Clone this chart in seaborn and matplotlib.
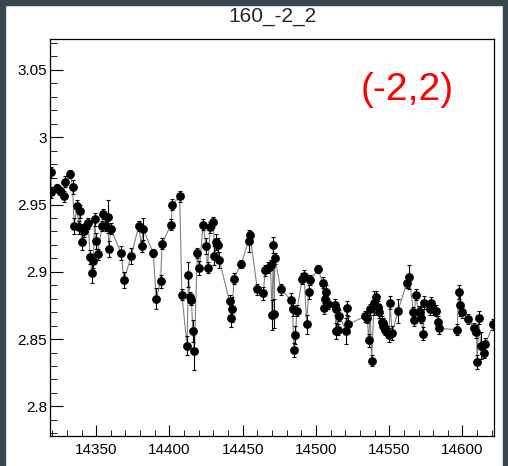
import matplotlib
matplotlib.use("Agg")
import matplotlib.pyplot as plt
import seaborn as sns
import pandas as pd
from matplotlib.ticker import MultipleLocator, FixedLocator, FixedFormatter
from matplotlib.patches import Rectangle

# dados
x_vals = [14319, 14319.5, 14323, 14325, 14328, 14329, 14332, 14334, 14335, 14337,
          14338, 14339, 14340, 14342, 14343, 14344.5, 14346, 14347, 14348, 14349,
          14350, 14351, 14354, 14355, 14357, 14358, 14358.6, 14360, 14367, 14369,
          14374, 14379, 14381, 14382, 14389, 14391, 14394, 14395, 14401, 14402,
          14407, 14408.5, 14412, 14413, 14414, 14415, 14416, 14417, 14419, 14420.5,
          14423, 14425, 14426, 14428, 14430, 14430.7, 14432, 14433, 14434, 14441,
          14442, 14443, 14444, 14449, 14454, 14455, 14460, 14464, 14465.4, 14467,
          14469, 14470, 14471, 14471.5, 14472, 14476, 14483, 14484, 14485, 14486,
          14487, 14490.6, 14492, 14493.6, 14495, 14496, 14501.5, 14504.5, 14505.5, 14506,
          14507, 14508, 14513, 14513.5, 14514, 14515, 14516, 14520.5, 14521, 14522,
          14533.6, 14535, 14536, 14537, 14538, 14539.7, 14541, 14542.5, 14543, 14545,
          14545.5, 14546, 14546.8, 14547, 14550, 14550.5, 14552, 14556, 14562, 14563.7,
          14566.5, 14567, 14568, 14570, 14571, 14571.7, 14573.3, 14574, 14577.5, 14578.6,
          14580, 14582, 14583, 14584, 14596.4, 14597.3, 14598.5, 14600, 14604, 14608,
          14609.5, 14610, 14611, 14612.4, 14615, 14615.6, 14621]
y_vals = [2.974, 2.959, 2.962, 2.960, 2.956, 2.967, 2.973, 2.963, 2.934, 2.949,
          2.933, 2.945, 2.922, 2.930, 2.934, 2.936, 2.911, 2.899, 2.908, 2.939,
          2.923, 2.913, 2.934, 2.943, 2.934, 2.941, 2.917, 2.932, 2.914, 2.894,
          2.912, 2.934, 2.919, 2.932, 2.914, 2.880, 2.893, 2.921, 2.935, 2.950,
          2.956, 2.883, 2.845, 2.898, 2.881, 2.879, 2.856, 2.841, 2.914, 2.903,
          2.935, 2.919, 2.903, 2.933, 2.937, 2.912, 2.922, 2.920, 2.909, 2.878,
          2.866, 2.872, 2.895, 2.906, 2.923, 2.927, 2.887, 2.884, 2.901, 2.903,
          2.905, 2.868, 2.920, 2.869, 2.910, 2.887, 2.879, 2.872, 2.842, 2.853,
          2.871, 2.895, 2.897, 2.861, 2.885, 2.894, 2.902, 2.892, 2.873, 2.880,
          2.885, 2.876, 2.8755, 2.856, 2.872, 2.857, 2.8675, 2.856, 2.873, 2.861,
          2.867, 2.866, 2.849, 2.872, 2.834, 2.877, 2.881, 2.874, 2.870, 2.863,
          2.862, 2.860, 2.858, 2.857, 2.853, 2.877, 2.8545, 2.871, 2.892, 2.896,
          2.870, 2.864, 2.883, 2.8705, 2.870, 2.866, 2.854, 2.877, 2.872, 2.877,
          2.872, 2.871, 2.863, 2.858, 2.857, 2.885, 2.8755, 2.870, 2.865, 2.858,
          2.8556, 2.833, 2.866, 2.845, 2.840, 2.846, 2.861]
y_errs = [0.004, 0.004, 0.003, 0.003, 0.004, 0.004, 0.003, 0.005, 0.006, 0.004,
          0.005, 0.005, 0.006, 0.004, 0.004, 0.004, 0.005, 0.007, 0.005, 0.005,
          0.006, 0.004, 0.004, 0.004, 0.004, 0.012, 0.006, 0.004, 0.005, 0.006,
          0.006, 0.004, 0.004, 0.008, 0.003, 0.008, 0.005, 0.004, 0.004, 0.004,
          0.004, 0.004, 0.007, 0.009, 0.004, 0.004, 0.008, 0.014, 0.004, 0.005,
          0.004, 0.006, 0.004, 0.004, 0.004, 0.007, 0.006, 0.005, 0.006, 0.005,
          0.007, 0.009, 0.004, 0.003, 0.008, 0.003, 0.004, 0.005, 0.004, 0.004,
          0.004, 0.011, 0.006, 0.011, 0.004, 0.004, 0.005, 0.005, 0.005, 0.007,
          0.004, 0.004, 0.004, 0.007, 0.005, 0.004, 0.003, 0.004, 0.004, 0.004,
          0.005, 0.004, 0.004, 0.006, 0.004, 0.004, 0.004, 0.010, 0.005, 0.006,
          0.004, 0.004, 0.005, 0.004, 0.004, 0.009, 0.005, 0.004, 0.004, 0.004,
          0.004, 0.004, 0.004, 0.004, 0.005, 0.005, 0.005, 0.009, 0.004, 0.009,
          0.004, 0.004, 0.004, 0.004, 0.004, 0.004, 0.005, 0.005, 0.004, 0.004,
          0.004, 0.004, 0.004, 0.004, 0.004, 0.005, 0.008, 0.004, 0.004, 0.004,
          0.005, 0.005, 0.005, 0.010, 0.004, 0.005, 0.004]

y_ticks = [2.8, 2.85, 2.9, 2.95, 3.0, 3.05]
y_labels = ["2.8", "2.85", "2.9", "2.95", "3", "3.05"]

df = pd.DataFrame({"t": x_vals, "v": y_vals, "err": y_errs})

sns.set_style("ticks")
plt.rcParams["font.family"] = ["Liberation Sans", "DejaVu Sans"]

fig = plt.figure(figsize=(5.08, 4.66), dpi=100)
ax = fig.add_axes([50 / 508, 30 / 466, 444 / 508, 397 / 466])

# linha cinza ligando os pontos
sns.lineplot(data=df, x="t", y="v", sort=True, estimator=None, color="#808080",
             linewidth=0.8, ax=ax, zorder=1)
ax.errorbar(df["t"], df["v"], yerr=df["err"], fmt="none", ecolor="black",
            elinewidth=0.8, capsize=1.5, capthick=0.8, zorder=2)
sns.scatterplot(data=df, x="t", y="v", color="black", s=40, edgecolor="black",
                linewidth=0, ax=ax, zorder=3)

ax.set_xlim(14318.5, 14621.5)
ax.set_ylim(2.778, 3.073)
ax.set_xlabel("")
ax.set_ylabel("")

ax.xaxis.set_major_locator(MultipleLocator(50))
ax.xaxis.set_minor_locator(MultipleLocator(10))
ax.yaxis.set_major_locator(FixedLocator(y_ticks))
ax.yaxis.set_major_formatter(FixedFormatter(y_labels))
ax.yaxis.set_minor_locator(MultipleLocator(0.01))

ax.tick_params(axis="both", which="both", direction="in", top=False, right=False,
               labelsize=11, colors="black")
ax.tick_params(axis="y", which="major", length=9.5, pad=2)
ax.tick_params(axis="y", which="minor", length=5)
ax.tick_params(axis="x", which="major", length=8, pad=5)
ax.tick_params(axis="x", which="minor", length=4)
for s in ax.spines.values():
    s.set_visible(True)
    s.set_color("black")
    s.set_linewidth(0.9)

fig.text(272 / 508, 1 - 16 / 466, "160_-2_2", ha="center", va="center", fontsize=15)
fig.text(407 / 508, 1 - 90 / 466, "(-2,2)", ha="center", va="center",
         fontsize=28, color="#ff0000")

# moldura escura nas bordas
dark = "#37474f"
fig.patches.append(Rectangle((0, 0), 5 / 508, 1, transform=fig.transFigure,
                             color=dark, zorder=10))
fig.patches.append(Rectangle((0, 1 - 5 / 466), 1, 5 / 466, transform=fig.transFigure,
                             color=dark, zorder=10))
fig.patches.append(Rectangle((1 - 5 / 508, 0), 5 / 508, 1, transform=fig.transFigure,
                             color=dark, zorder=10))

fig.savefig("out.png", dpi=100)
